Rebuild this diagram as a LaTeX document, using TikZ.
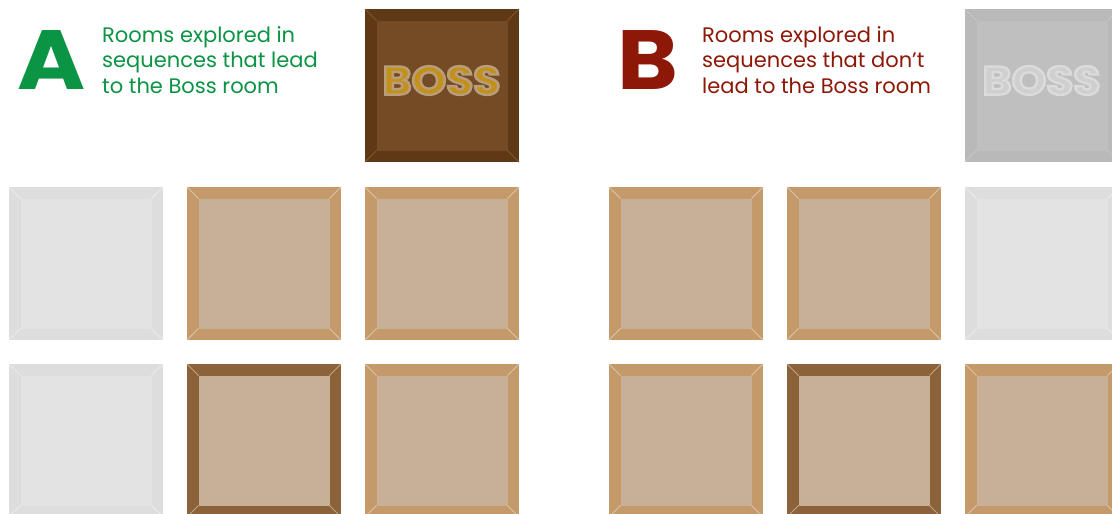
\documentclass[tikz,border=0pt]{standalone}
\usepackage{fontspec}
\setmainfont{Poppins}
\usepackage{graphicx}
\definecolor{agreen}{HTML}{0A9444}
\definecolor{bred}{HTML}{8E1808}
\definecolor{lbev}{HTML}{C59A6B}
\definecolor{linn}{HTML}{C8B098}
\definecolor{ldiag}{HTML}{DCC3A4}
\definecolor{dbev}{HTML}{8B6239}
\definecolor{ddiag}{HTML}{C4A47E}
\definecolor{gbev}{HTML}{DDDDDD}
\definecolor{ginn}{HTML}{E3E3E3}
\definecolor{gdiag}{HTML}{EBEBEB}
\definecolor{bossbev}{HTML}{5F3915}
\definecolor{bossinn}{HTML}{744B25}
\definecolor{bossdiag}{HTML}{7E5630}
\definecolor{bosstext}{HTML}{C39018}
\definecolor{gbbev}{HTML}{B9B9B9}
\definecolor{gbinn}{HTML}{BFBFBF}
\definecolor{gbdiag}{HTML}{C6C6C6}
\definecolor{gbtext}{HTML}{CFCFCF}
% tile: x, y, bevel colour, inner colour, diagonal colour
\newcommand\roomtile[5]{%
  \fill[#3] (#1,#2) rectangle ++(154,153);
  \fill[#4] (#1+11.5,#2+11.5) rectangle (#1+142.5,#2+141.5);
  \draw[#5,line width=0.8pt] (#1,#2) -- (#1+11.5,#2+11.5)
    (#1+154,#2) -- (#1+142.5,#2+11.5)
    (#1,#2+153) -- (#1+11.5,#2+141.5)
    (#1+154,#2+153) -- (#1+142.5,#2+141.5);
}
% outlined word: fill colour, stroke colour as "r g b RG"
\newcommand\bossword[2]{%
  \scalebox{1.1}[1]{\textcolor{#1}{\special{pdf:literal direct 2 Tr 2.4 w #2}BOSS\special{pdf:literal direct 0 Tr}}}}
\newcommand\wideletter[1]{\scalebox{1.1}[1]{#1}}
\tikzset{
  caption/.style={anchor=base west,inner sep=0pt,font=\fontsize{21}{24}\selectfont},
  bigletter/.style={anchor=base west,inner sep=0pt,font=\fontsize{84}{84}\selectfont\bfseries},
  bosslabel/.style={inner sep=0pt,font=\fontsize{40}{40}\selectfont\bfseries}
}
\begin{document}
\begin{tikzpicture}[x=1pt,y=-1pt]
\useasboundingbox (0,0) rectangle (1112,514);
\clip (0,0) rectangle (1112,514);
\fill[white] (0,0) rectangle (1112,514);
% ---------- panel A ----------
\roomtile{365}{9}{bossbev}{bossinn}{bossdiag}
\node[bosslabel] (bossA) at (441.5,80.5) {\bossword{bosstext}{0.72 0.62 0.49 RG}};
\roomtile{9}{187}{gbev}{ginn}{gdiag}
\roomtile{187}{187}{lbev}{linn}{ldiag}
\roomtile{365}{187}{lbev}{linn}{ldiag}
\roomtile{9}{364}{gbev}{ginn}{gdiag}
\roomtile{187}{364}{dbev}{linn}{ddiag}
\roomtile{365}{364}{lbev}{linn}{ldiag}
\node[bigletter,text=agreen] (letA) at (17,89) {\wideletter{A}};
\node[caption,text=agreen] (a1) at (102,42) {Rooms explored in};
\node[caption,text=agreen] (a2) at (102,67.5) {sequences that lead};
\node[caption,text=agreen] (a3) at (102,93) {to the Boss room};
% ---------- panel B ----------
\roomtile{965}{9}{gbbev}{gbinn}{gbdiag}
\node[bosslabel] (bossB) at (1041.5,80.5) {\bossword{gbtext}{0.86 0.86 0.86 RG}};
\roomtile{609}{187}{lbev}{linn}{ldiag}
\roomtile{787}{187}{lbev}{linn}{ldiag}
\roomtile{965}{187}{gbev}{ginn}{gdiag}
\roomtile{609}{364}{lbev}{linn}{ldiag}
\roomtile{787}{364}{dbev}{linn}{ddiag}
\roomtile{965}{364}{lbev}{linn}{ldiag}
\node[bigletter,text=bred] (letB) at (617.5,89) {\wideletter{B}};
\node[caption,text=bred] (b1) at (702,42) {Rooms explored in};
\node[caption,text=bred] (b2) at (702,67.5) {sequences that don’t};
\node[caption,text=bred] (b3) at (702,93) {lead to the Boss room};
\end{tikzpicture}
\end{document}
